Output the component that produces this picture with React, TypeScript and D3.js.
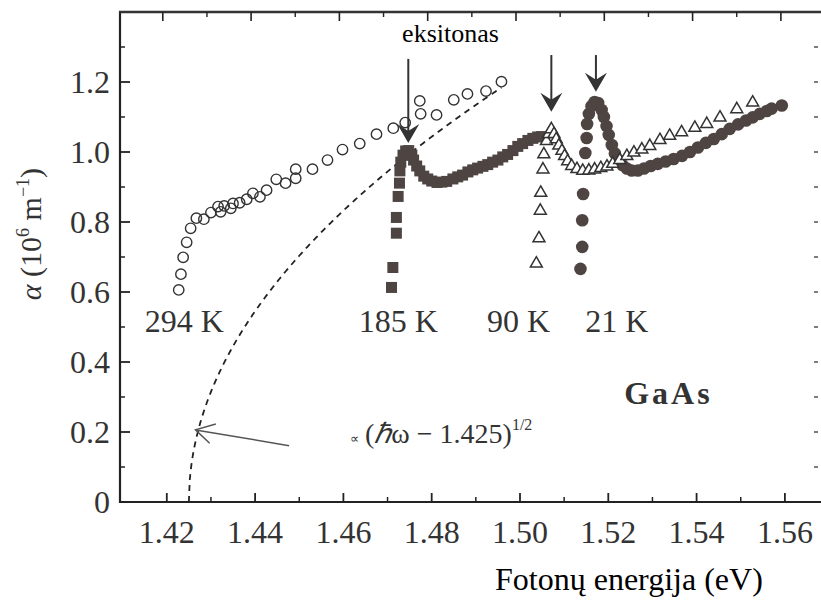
import * as d3 from "d3";

// photon energy (eV) and absorption coefficient (10^6 m^-1)
const e294 = [1.4227, 1.4232, 1.4237, 1.4245, 1.4254, 1.4267, 1.4284, 1.43, 1.4316, 1.4322, 1.433, 1.4345, 1.435, 1.4365, 1.4381, 1.4395, 1.4411, 1.4426, 1.4448, 1.4469, 1.4492, 1.4492, 1.453, 1.4564, 1.4598, 1.4637, 1.4675, 1.4713, 1.474, 1.4773, 1.4775, 1.4811, 1.485, 1.4881, 1.4923, 1.4958];
const a294 = [0.606, 0.651, 0.699, 0.742, 0.782, 0.811, 0.808, 0.827, 0.844, 0.829, 0.846, 0.839, 0.853, 0.855, 0.865, 0.882, 0.872, 0.891, 0.922, 0.911, 0.925, 0.951, 0.951, 0.977, 1.007, 1.024, 1.051, 1.068, 1.084, 1.146, 1.109, 1.106, 1.149, 1.166, 1.174, 1.201];

const e185 = [1.4709, 1.4712, 1.472, 1.472, 1.4724, 1.4727, 1.4728, 1.473, 1.4735, 1.4741, 1.4748, 1.4755, 1.4759, 1.4766, 1.4773, 1.4782, 1.4791, 1.48, 1.4812, 1.4823, 1.4834, 1.4848, 1.4859, 1.487, 1.4882, 1.4893, 1.4904, 1.4916, 1.4927, 1.4938, 1.495, 1.4961, 1.4972, 1.4984, 1.4995, 1.5006, 1.5018, 1.5029, 1.504, 1.5049];
const a185 = [0.613, 0.67, 0.768, 0.813, 0.873, 0.911, 0.946, 0.971, 0.991, 1.003, 1.004, 0.991, 0.977, 0.96, 0.946, 0.931, 0.923, 0.917, 0.913, 0.914, 0.916, 0.923, 0.929, 0.934, 0.943, 0.949, 0.954, 0.959, 0.964, 0.971, 0.977, 0.986, 0.993, 1.004, 1.016, 1.024, 1.033, 1.039, 1.043, 1.044];

const e90 = [1.5037, 1.5043, 1.5046, 1.5047, 1.5052, 1.5054, 1.506, 1.5065, 1.5071, 1.5077, 1.5082, 1.5088, 1.5095, 1.5101, 1.5108, 1.5117, 1.5129, 1.5142, 1.5156, 1.5169, 1.5183, 1.5197, 1.521, 1.5226, 1.5242, 1.5258, 1.5276, 1.5294, 1.5317, 1.5339, 1.5366, 1.5396, 1.5423, 1.5453, 1.5491, 1.5527];
const a90 = [0.684, 0.756, 0.835, 0.886, 0.953, 0.996, 1.034, 1.054, 1.068, 1.054, 1.039, 1.021, 1.006, 0.991, 0.976, 0.963, 0.954, 0.949, 0.95, 0.953, 0.957, 0.961, 0.969, 0.98, 0.991, 1.001, 1.01, 1.02, 1.037, 1.049, 1.059, 1.072, 1.083, 1.101, 1.125, 1.144];

const e21 = [1.5137, 1.5141, 1.5141, 1.5143, 1.5148, 1.5151, 1.5152, 1.5156, 1.5162, 1.5169, 1.5177, 1.5185, 1.519, 1.5196, 1.5201, 1.5208, 1.5215, 1.5223, 1.5232, 1.5242, 1.5253, 1.5267, 1.5281, 1.5296, 1.5312, 1.533, 1.5348, 1.5367, 1.5385, 1.5403, 1.5421, 1.5439, 1.5457, 1.5475, 1.5494, 1.5512, 1.5527, 1.5543, 1.5559, 1.557, 1.5593];
const a21 = [0.666, 0.729, 0.805, 0.88, 0.997, 1.04, 1.08, 1.109, 1.131, 1.143, 1.14, 1.12, 1.1, 1.074, 1.049, 1.02, 0.996, 0.977, 0.963, 0.953, 0.947, 0.947, 0.953, 0.96, 0.966, 0.973, 0.98, 0.989, 1.0, 1.013, 1.026, 1.037, 1.051, 1.066, 1.079, 1.09, 1.099, 1.109, 1.117, 1.124, 1.133];

// exciton peak arrows: energy, top of shaft, tip
const arrowE = [1.4747, 1.5071, 1.5172];
const arrowTop = [1.266, 1.277, 1.277];
const arrowTip = [1.026, 1.115, 1.172];

// fitted band-edge curve  alpha = k * (E - Eg)^(1/2)
const Eg = 1.425;
const kFit = 4.45;
const fitEnd = 1.4958;

const xMajor = [1.42, 1.44, 1.46, 1.48, 1.5, 1.52, 1.54, 1.56];
const xMinor = [1.43, 1.45, 1.47, 1.49, 1.51, 1.53, 1.55];
const yMajor = [0, 0.2, 0.4, 0.6, 0.8, 1.0, 1.2];
const yMinor = [0.1, 0.3, 0.5, 0.7, 0.9, 1.1, 1.3];

const W = 821, H = 603;
const ink = "#222";
const dark = "#4e4543";
const serif = "'Liberation Serif', 'Times New Roman', serif";

export default function App() {
  const x = d3.scaleLinear().domain([1.4094, 1.5675]).range([120, 818]);
  const y = d3.scaleLinear().domain([0, 1.4]).range([502, 12]);
  const [x0, x1] = x.range();
  const [y0, y1] = y.range();

  const fitPts = d3.range(Eg, fitEnd, 0.0002).concat([fitEnd]).map((e) => [e, kFit * Math.sqrt(Math.max(0, e - Eg))]);
  const fitLine = d3.line<number[]>().x((d) => x(d[0])).y((d) => y(d[1]))(fitPts) || "";

  const tri = d3.symbol().type(d3.symbolTriangle).size(62)() || "";
  const fmt = (v: number) => (v === 0 ? "0" : d3.format(".2f")(v));
  const fmtY = (v: number) => (v === 0 ? "0" : d3.format(".1f")(v));

  return (
    <svg width={W} height={H} style={{ position: "absolute", left: 0, top: 0, background: "#fff" }} fontFamily={serif}>
      {/* frame */}
      <line x1={x0} x2={x0} y1={y0 + 1} y2={y1 - 1} stroke={ink} strokeWidth={2.2} />
      <line x1={x0 - 1} x2={W} y1={y0} y2={y0} stroke={ink} strokeWidth={2.2} />
      <line x1={x0 - 1} x2={W} y1={y1} y2={y1} stroke="#333" strokeWidth={2.6} />

      {/* ticks */}
      {xMajor.map((v) => (
        <g key={"xm" + v}>
          <line x1={x(v)} x2={x(v)} y1={y0} y2={y0 - 9} stroke={ink} strokeWidth={1.8} />
          <line x1={x(v) - 4} x2={x(v) - 4} y1={y1} y2={y1 + 9} stroke={ink} strokeWidth={1.6} />
          <text x={x(v)} y={543} fontSize={32} textAnchor="middle" fill="#333">{fmt(v)}</text>
        </g>
      ))}
      {xMinor.map((v) => (
        <g key={"xn" + v}>
          <line x1={x(v)} x2={x(v)} y1={y0} y2={y0 - 5} stroke={ink} strokeWidth={1.5} />
          <line x1={x(v) - 4} x2={x(v) - 4} y1={y1} y2={y1 + 5} stroke={ink} strokeWidth={1.4} />
        </g>
      ))}
      {yMajor.map((v) => (
        <g key={"ym" + v}>
          <line x1={x0} x2={x0 + 10} y1={y(v)} y2={y(v)} stroke={ink} strokeWidth={1.8} />
          <text x={110} y={y(v) + 11} fontSize={32} textAnchor="end" fill="#333">{fmtY(v)}</text>
        </g>
      ))}
      {yMinor.map((v) => (
        <line key={"yn" + v} x1={x0} x2={x0 + 5} y1={y(v)} y2={y(v)} stroke={ink} strokeWidth={1.5} />
      ))}
      {yMajor.concat(yMinor).filter((v) => v > 0).map((v) => (
        <line key={"yr" + v} x1={x1} x2={x1 - 4} y1={y(v)} y2={y(v)} stroke="#444" strokeWidth={1.4} />
      ))}

      {/* fitted curve */}
      <path d={fitLine} fill="none" stroke={ink} strokeWidth={1.8} strokeDasharray="6 5" />

      {/* 294 K */}
      {e294.map((e, i) => (
        <circle key={"c" + i} cx={x(e)} cy={y(a294[i])} r={5.2} fill="none" stroke="#333" strokeWidth={1.4} />
      ))}
      {/* 185 K */}
      {e185.map((e, i) => (
        <rect key={"s" + i} x={x(e) - 5.5} y={y(a185[i]) - 5.5} width={11} height={11} fill={dark} />
      ))}
      {/* 21 K */}
      {e21.map((e, i) => (
        <circle key={"f" + i} cx={x(e)} cy={y(a21[i])} r={6.3} fill={dark} />
      ))}
      {/* 90 K */}
      {e90.map((e, i) => (
        <path key={"t" + i} d={tri} transform={`translate(${x(e)},${y(a90[i]) + 1})`} fill="#fff" stroke="#333" strokeWidth={1.5} />
      ))}

      {/* exciton arrows */}
      {arrowE.map((e, i) => {
        const ax = x(e), ty = y(arrowTip[i]);
        return (
          <g key={"a" + i}>
            <line x1={ax} x2={ax} y1={y(arrowTop[i])} y2={ty - 6} stroke="#333" strokeWidth={2} />
            <path d={`M${ax},${ty} L${ax - 11},${ty - 19} L${ax},${ty - 12} L${ax + 11},${ty - 19} Z`} fill="#333" />
          </g>
        );
      })}
      <text x={x(1.4733)} y={42} fontSize={26} fill="#000">eksitonas</text>

      {/* temperature labels */}
      <text x={x(1.415)} y={y(0.486)} fontSize={32} fill="#333">294 K</text>
      <text x={x(1.4635)} y={y(0.486)} fontSize={32} fill="#333">185 K</text>
      <text x={x(1.4925)} y={y(0.486)} fontSize={32} fill="#333">90 K</text>
      <text x={x(1.5148)} y={y(0.486)} fontSize={32} fill="#333">21 K</text>
      <text x={x(1.5236)} y={y(0.28)} fontSize={32} fontWeight="bold" fill="#333" letterSpacing={3}>GaAs</text>

      {/* fit annotation */}
      <line x1={x(1.4477)} y1={y(0.161)} x2={x(1.4265)} y2={y(0.206)} stroke="#555" strokeWidth={1.5} />
      <path d={`M${x(1.4311)},${y(0.223)} L${x(1.4265)},${y(0.206)} L${x(1.4297)},${y(0.168)}`} fill="none" stroke="#555" strokeWidth={1.5} />
      <text x={x(1.4615)} y={y(0.168)} fontSize={28} fill="#333">
        <tspan fontSize={13}>∝</tspan>
        <tspan dx={6}>(</tspan>
        <tspan fontStyle="italic">ℏ</tspan>
        <tspan>ω − 1.425)</tspan>
        <tspan fontSize={16} dy={-13}>1/2</tspan>
      </text>

      {/* axis titles */}
      <text transform={`translate(41,234) rotate(-90)`} textAnchor="middle" fontSize={30} fill="#333">
        <tspan fontStyle="italic">α</tspan>
        <tspan> (10</tspan>
        <tspan fontSize={18} dy={-12}>6</tspan>
        <tspan dy={12}> m</tspan>
        <tspan fontSize={18} dy={-12}>−1</tspan>
        <tspan dy={12}>)</tspan>
      </text>
      <text x={495} y={590} fontSize={32} fill="#000">Fotonų energija (eV)</text>
    </svg>
  );
}
